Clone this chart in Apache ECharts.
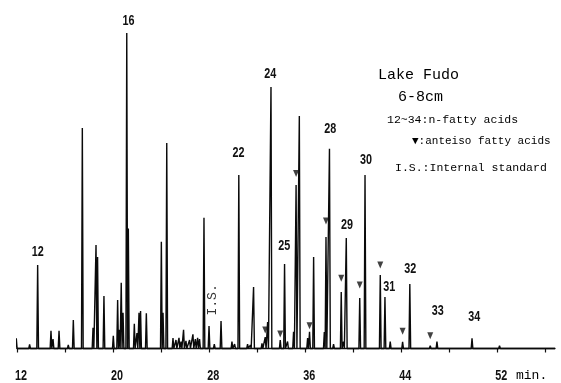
<!DOCTYPE html>
<html>
<head>
<meta charset="utf-8">
<script src="https://cdn.jsdelivr.net/npm/echarts@6/dist/echarts.min.js"></script>
<style>
  html, body { margin: 0; padding: 0; background: #fff; }
  #chart { width: 561px; height: 383px; }
</style>
</head>
<body>
<div id="chart"></div>
<script>
// Gas chromatogram of fatty acids, Lake Fudo sediment (6-8 cm).
// Retention time in minutes, detector response scaled so the C16 peak = 100.

const peakTimes = [
  11.94, 13.05, 13.72, 14.83, 15.00, 15.50, 16.27, 16.69, 17.44, 18.33,
  18.58, 18.71, 19.24, 20.02, 20.38, 20.52, 20.68, 20.83, 21.14, 21.27,
  21.77, 21.99, 22.16, 22.29, 22.77, 24.02, 24.16, 24.47, 24.99, 25.24,
  25.49, 25.66, 25.87, 26.07, 26.37, 26.65, 26.85, 27.04, 27.20, 27.57,
  27.99, 28.43, 28.99, 29.90, 30.12, 30.47, 31.20, 31.43, 31.70, 32.40,
  32.67, 32.87, 33.15, 33.92, 34.28, 34.53, 35.03, 35.24, 35.51, 36.20,
  36.36, 36.70, 37.59, 37.73, 38.02, 38.36, 39.00, 39.19, 39.42, 40.54,
  40.98, 42.25, 42.64, 43.08, 44.11, 44.71, 46.41, 46.97, 48.08, 48.83,
  49.89, 52.18, 56.55
];
const peakHeights = [
  3.2, 1.3, 26.5, 5.6, 3.0, 5.6, 1.1, 9.0, 69.9, 6.6,
  32.8, 29.0, 16.6, 4.0, 15.4, 5.9, 20.8, 11.3, 100, 38.0,
  7.8, 4.9, 11.3, 11.9, 11.2, 33.8, 11.3, 65.1, 3.3, 2.7,
  3.4, 2.2, 5.9, 2.4, 2.7, 4.5, 3.0, 3.4, 3.0, 41.4,
  7.1, 1.4, 8.7, 2.2, 1.4, 55.0, 1.4, 1.1, 19.5, 1.6,
  3.6, 8.4, 82.9, 2.7, 26.8, 2.2, 5.3, 51.8, 73.7, 3.3,
  5.3, 29.0, 5.2, 35.3, 63.3, 1.4, 17.9, 2.2, 35.0, 16.0,
  55.0, 23.3, 16.3, 2.2, 2.1, 20.4, 0.9, 2.2, 0.5, 0.6,
  3.2, 0.9, 0.3
];
const traceStart = 11.44;
const traceEnd = 56.8;

// anteiso fatty acids (marked with a down triangle)
const anteisoTimes = [32.67, 33.92, 35.24, 36.36, 37.73, 39.00, 40.54, 42.25, 44.11, 46.41];
const anteisoMarkY = [5.9, 4.6, 55.5, 7.2, 40.4, 22.3, 20.1, 26.5, 5.5, 4.0];

// n-fatty acid carbon numbers and where their numbers sit
const carbonLabels = ['12', '16', '22', '24', '25', '28', '29', '30', '31', '32', '33', '34'];
const carbonLabelTimes = [13.72, 21.29, 30.45, 33.09, 34.26, 38.09, 39.48, 41.06, 43.00, 44.75, 47.03, 50.07];
const carbonLabelY = [30.7, 103.9, 62.1, 87.2, 32.6, 69.5, 39.1, 59.7, 19.4, 25.2, 12.0, 10.1];

const standardTime = 28.26;
const standardLabelY = 15.4;

const tickValues = [12, 16, 20, 24, 28, 32, 36, 40, 44, 48, 52, 56];
const tickLabels = [12, 20, 28, 36, 44, 52];

const yMin = -2.38;
const yMax = 104.12;

// Each peak is drawn as a narrow spike rising from the baseline.
const halfWidth = 0.07;
const trace = [[traceStart, 0]];
peakTimes.forEach((t, i) => {
  trace.push([t - halfWidth, 0], [t, peakHeights[i]], [t + halfWidth, 0]);
});
trace.push([traceEnd, 0]);

const boldNumerals = 'bold 15px "Liberation Sans", Arial, sans-serif';
const narrowing = 0.72;
const mono = '"Liberation Mono", "DejaVu Sans Mono", monospace';

const chart = echarts.init(document.getElementById('chart'), null, { renderer: 'canvas' });

chart.setOption({
  animation: false,
  backgroundColor: '#ffffff',
  grid: { left: 17, right: 6, top: 20, bottom: 27 },
  xAxis: {
    type: 'value',
    min: 12,
    max: 56.8,
    axisLine: { show: true, lineStyle: { color: '#111', width: 1.3 } },
    axisTick: { show: true, customValues: tickValues, length: 4, lineStyle: { color: '#111', width: 1.2 } },
    axisLabel: { show: false },
    splitLine: { show: false }
  },
  yAxis: { type: 'value', min: yMin, max: yMax, show: false },
  series: [
    {
      type: 'line',
      data: trace,
      clip: false,
      showSymbol: false,
      symbol: 'none',
      lineStyle: { color: '#0a0a0a', width: 1.4 },
      z: 2
    },
    {
      type: 'scatter',
      data: anteisoTimes.map((t, i) => [t, anteisoMarkY[i]]),
      symbol: 'triangle',
      symbolRotate: 180,
      symbolSize: [6, 7],
      itemStyle: { color: '#111' },
      clip: false,
      z: 3
    },
    {
      type: 'scatter',
      data: [{ value: [standardTime, standardLabelY], name: 'I.S.' }],
      symbolSize: 1,
      itemStyle: { color: 'rgba(0,0,0,0)' },
      clip: false,
      label: {
        show: true,
        position: 'inside',
        rotate: 90,
        formatter: p => p.name,
        color: '#000',
        fontFamily: mono,
        fontSize: 13
      },
      z: 4
    }
  ]
});

// Condensed bold numerals for peak numbers and time ticks, placed through the axis scales.
const numeralText = (text, pt) => ({
  type: 'text',
  x: pt[0],
  y: pt[1],
  scaleX: narrowing,
  style: { text: text, font: boldNumerals, fill: '#111', align: 'center', verticalAlign: 'middle' },
  z: 10
});

const peakNumberTexts = carbonLabels.map((c, i) =>
  numeralText(c, chart.convertToPixel({ gridIndex: 0 }, [carbonLabelTimes[i], carbonLabelY[i]])));

const timeTexts = tickLabels.map(v => {
  const p = chart.convertToPixel({ gridIndex: 0 }, [v, yMin]);
  return numeralText(String(v), [p[0] + 4, p[1] + 20]);
});

chart.setOption({
  graphic: peakNumberTexts.concat(timeTexts, [
    { type: 'text', left: 378, top: 68, style: { text: 'Lake Fudo', font: '15px ' + mono, fill: '#000' } },
    { type: 'text', left: 398, top: 90, style: { text: '6-8cm', font: '15px ' + mono, fill: '#000' } },
    { type: 'text', left: 387, top: 114, style: { text: '12~34:n-fatty acids', font: '11.5px ' + mono, fill: '#000' } },
    { type: 'text', left: 412, top: 136, style: { text: '\u25BC:anteiso fatty acids', font: '11px ' + mono, fill: '#000' } },
    { type: 'text', left: 395, top: 162, style: { text: 'I.S.:Internal standard', font: '11.5px ' + mono, fill: '#000' } },
    { type: 'text', left: 516, top: 369, style: { text: 'min.', font: '13px ' + mono, fill: '#000' } }
  ])
});
</script>
</body>
</html>
